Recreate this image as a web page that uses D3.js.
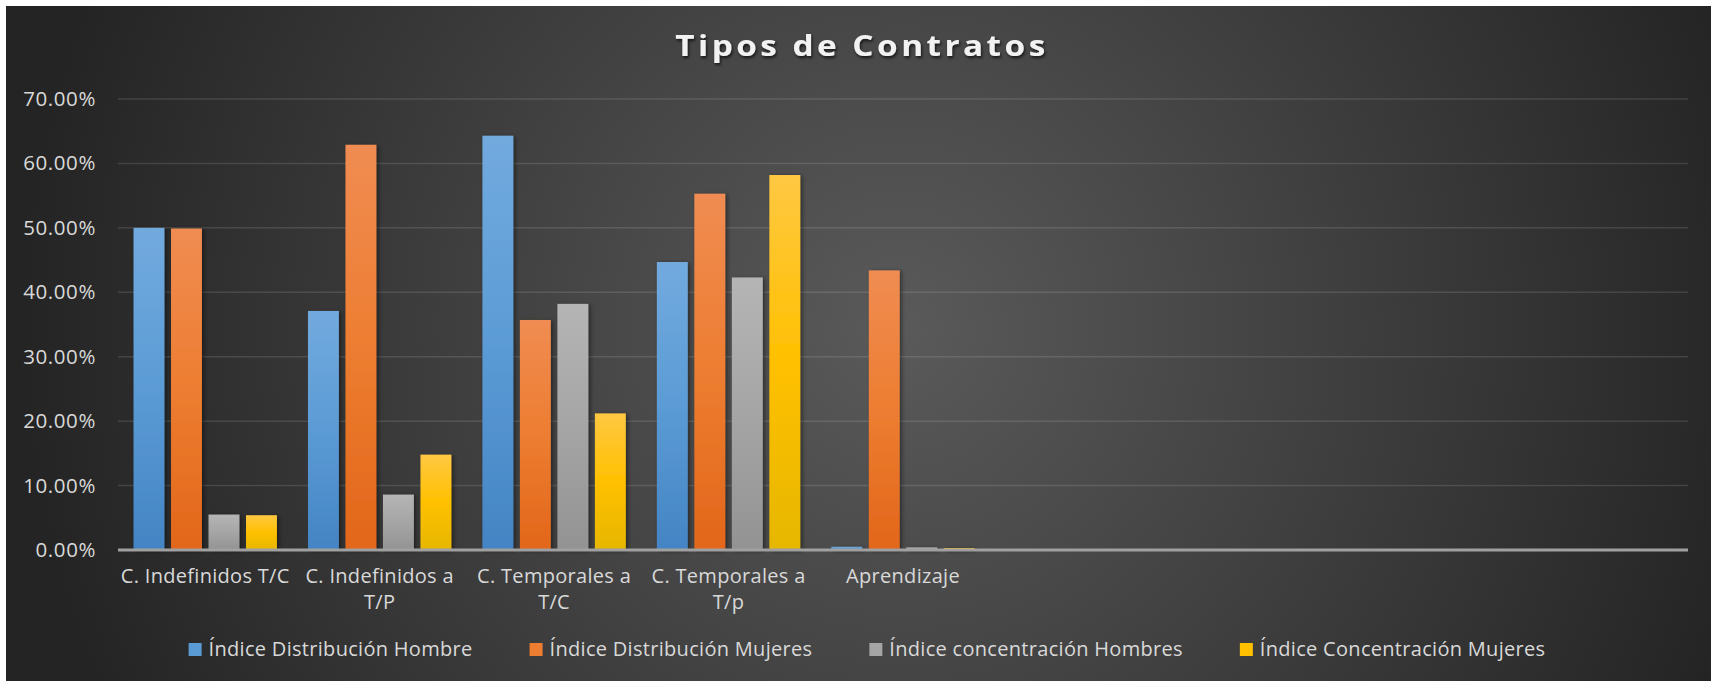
<!DOCTYPE html>
<html>
<head>
<meta charset="utf-8">
<script src="https://cdn.jsdelivr.net/npm/d3@7"></script>
<style>
  html, body { margin: 0; padding: 0; background: #fff; }
  svg { display: block; }
</style>
</head>
<body>
<script>
// chart data
let categories = ["C. Indefinidos T/C", "C. Indefinidos a T/P", "C. Temporales a T/C", "C. Temporales a T/p", "Aprendizaje"];
let emptySlots = 4; // the axis keeps room for 4 empty categories
let seriesNames = ["Índice Distribución Hombre", "Índice Distribución Mujeres", "Índice concentración Hombres", "Índice Concentración Mujeres"];
let distHombre = [0.500, 0.371, 0.643, 0.447, 0.005];
let distMujeres = [0.499, 0.629, 0.357, 0.553, 0.434];
let concHombres = [0.055, 0.086, 0.382, 0.423, 0.004];
let concMujeres = [0.054, 0.148, 0.212, 0.582, 0.003];
let yTicks = [0, 0.1, 0.2, 0.3, 0.4, 0.5, 0.6, 0.7];
let title = "Tipos de Contratos";

let seriesValues = [distHombre, distMujeres, concHombres, concMujeres];
let colors = ["#5b9bd5", "#ed7d31", "#a5a5a5", "#ffc000"];
let topColors = ["#72aade", "#f08c52", "#b5b5b5", "#ffc842"];
let bottomColors = ["#4484c4", "#e2661a", "#939393", "#e6b700"];

let width = 1711;
let height = 681;

let svg = d3.select("body").append("svg")
    .attr("width", width)
    .attr("height", height);

let defs = svg.append("defs");

let bg = defs.append("radialGradient")
    .attr("id", "bg")
    .attr("gradientUnits", "userSpaceOnUse")
    .attr("cx", 900).attr("cy", 330).attr("r", 880);
bg.append("stop").attr("offset", 0).attr("stop-color", "#5a5a5a");
bg.append("stop").attr("offset", 1).attr("stop-color", "#242424");

colors.forEach((c, i) => {
    let g = defs.append("linearGradient")
        .attr("id", "bar" + i)
        .attr("x1", 0).attr("y1", 0).attr("x2", 0).attr("y2", 1);
    g.append("stop").attr("offset", 0).attr("stop-color", topColors[i]);
    g.append("stop").attr("offset", 0.5).attr("stop-color", c);
    g.append("stop").attr("offset", 1).attr("stop-color", bottomColors[i]);
});

defs.append("filter").attr("id", "barShadow")
    .attr("x", "-20%").attr("y", "-5%").attr("width", "150%").attr("height", "110%")
    .append("feDropShadow")
    .attr("dx", 2).attr("dy", 1).attr("stdDeviation", 2)
    .attr("flood-color", "#000").attr("flood-opacity", 0.45);

defs.append("filter").attr("id", "titleShadow")
    .append("feDropShadow")
    .attr("dx", 1).attr("dy", 2).attr("stdDeviation", 1.5)
    .attr("flood-color", "#000").attr("flood-opacity", 0.7);

// chart area
svg.append("rect")
    .attr("x", 6).attr("y", 6)
    .attr("width", width - 6).attr("height", height - 6)
    .attr("fill", "url(#bg)");

let plotLeft = 118, plotRight = 1688, plotTop = 99, plotBottom = 550;

let x = d3.scaleBand()
    .domain(d3.range(categories.length + emptySlots))
    .range([plotLeft, plotRight]);

let outerGap = x.bandwidth() * 0.089;
let xSeries = d3.scaleBand()
    .domain(d3.range(seriesNames.length))
    .range([outerGap, x.bandwidth() - outerGap])
    .paddingInner(0.176);

let y = d3.scaleLinear()
    .domain([0, 0.7])
    .range([plotBottom, plotTop]);

let fmt = d3.format(".2%");

// gridlines
svg.append("g")
    .selectAll("line")
    .data(yTicks.filter(d => d > 0))
    .join("line")
    .attr("x1", plotLeft).attr("x2", plotRight)
    .attr("y1", d => y(d)).attr("y2", d => y(d))
    .attr("stroke", "#ffffff")
    .attr("stroke-opacity", 0.12)
    .attr("stroke-width", 1.5);

// y axis labels
let yAxis = svg.append("g")
    .attr("transform", `translate(${plotLeft - 22},0)`)
    .call(d3.axisLeft(y).tickValues(yTicks).tickFormat(fmt).tickSize(0).tickPadding(0));
yAxis.select(".domain").remove();
yAxis.selectAll("text")
    .attr("fill", "#d9d9d9")
    .attr("font-family", "'Open Sans', sans-serif")
    .attr("font-size", "20.5px")
    .attr("letter-spacing", "0.6px");

// bars
let groups = svg.append("g")
    .selectAll("g")
    .data(seriesValues)
    .join("g")
    .attr("filter", "url(#barShadow)");

groups.selectAll("rect")
    .data((vals, si) => vals.map((v, ci) => ({v: v, ci: ci, si: si})))
    .join("rect")
    .attr("x", d => x(d.ci) + xSeries(d.si))
    .attr("y", d => y(d.v))
    .attr("width", xSeries.bandwidth())
    .attr("height", d => y(0) - y(d.v))
    .attr("fill", d => `url(#bar${d.si})`);

// category axis line
svg.append("line")
    .attr("x1", plotLeft).attr("x2", plotRight)
    .attr("y1", y(0)).attr("y2", y(0))
    .attr("stroke", "#a0a0a0")
    .attr("stroke-width", 3);

// category labels, wrapped to the band width
let catLabels = svg.append("g")
    .selectAll("text")
    .data(categories)
    .join("text")
    .attr("x", (d, i) => x(i) + x.bandwidth() / 2)
    .attr("y", 583)
    .attr("text-anchor", "middle")
    .attr("fill", "#d9d9d9")
    .attr("font-family", "'Open Sans', sans-serif")
    .attr("font-size", "20px")
    .attr("letter-spacing", "0.3px");

catLabels.each(function(d) {
    let el = d3.select(this);
    let cx = el.attr("x");
    let words = d.split(" ");
    let lines = [];
    let line = [];
    let probe = el.append("tspan");
    words.forEach(w => {
        let test = line.concat([w]).join(" ");
        probe.text(test);
        if (probe.node().getComputedTextLength() > x.bandwidth() && line.length > 0) {
            lines.push(line.join(" "));
            line = [w];
        } else {
            line.push(w);
        }
    });
    lines.push(line.join(" "));
    probe.remove();
    lines.forEach((l, i) => {
        el.append("tspan")
            .attr("x", cx)
            .attr("dy", i === 0 ? 0 : 26)
            .text(l);
    });
});

// title (the picture is a bit stretched sideways, so is the title)
svg.append("g")
    .attr("transform", "translate(862,56) scale(1.15,1)")
    .append("text")
    .attr("x", 0)
    .attr("y", 0)
    .attr("text-anchor", "middle")
    .attr("fill", "#f2f2f2")
    .attr("font-family", "'Open Sans', sans-serif")
    .attr("font-weight", "bold")
    .attr("font-size", "29px")
    .attr("letter-spacing", "3px")
    .attr("filter", "url(#titleShadow)")
    .text(title);

// legend
let legend = svg.append("g").attr("class", "legend");
let items = legend.selectAll("g")
    .data(seriesNames)
    .join("g");

items.append("rect")
    .attr("x", 0).attr("y", -13)
    .attr("width", 13).attr("height", 13)
    .attr("fill", (d, i) => colors[i]);

items.append("text")
    .attr("x", 20)
    .attr("y", 0)
    .attr("fill", "#d9d9d9")
    .attr("font-family", "'Open Sans', sans-serif")
    .attr("font-size", "20px")
    .attr("letter-spacing", "0.3px")
    .text(d => d);

let legendGap = 57;
let offsets = [];
let pos = 0;
items.each(function() {
    offsets.push(pos);
    pos += 20 + d3.select(this).select("text").node().getComputedTextLength() + legendGap;
});
let legendWidth = pos - legendGap;
let legendStart = 867 - legendWidth / 2;
items.attr("transform", (d, i) => `translate(${legendStart + offsets[i]},656)`);
</script>
</body>
</html>
